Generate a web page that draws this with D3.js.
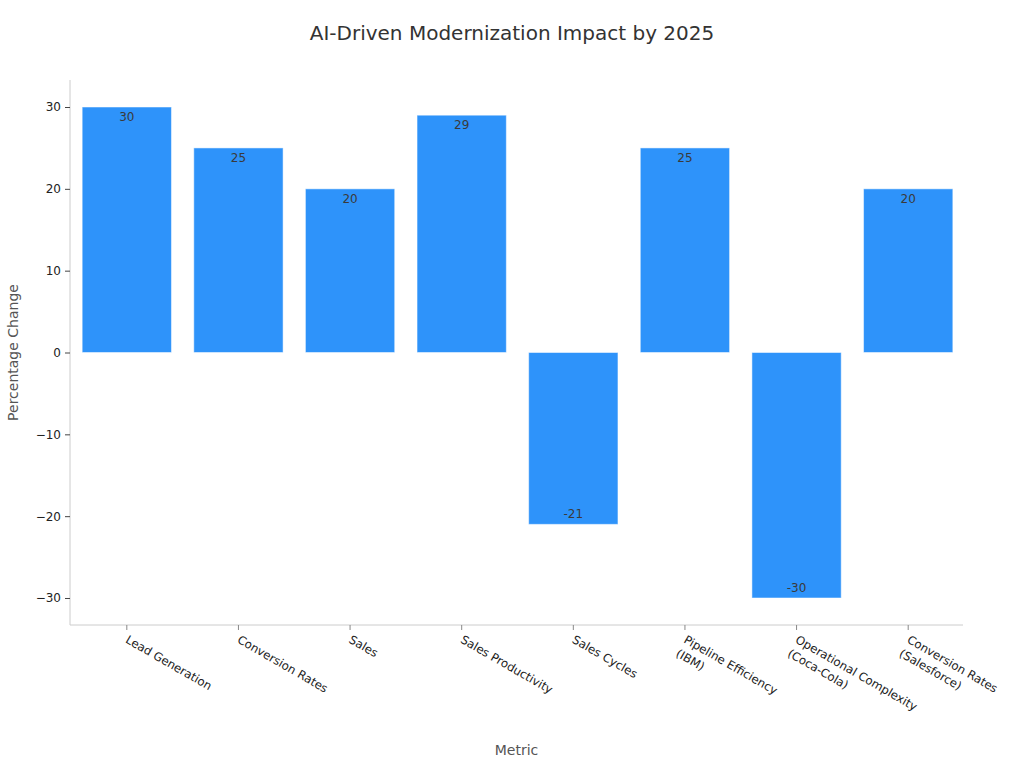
<!DOCTYPE html>
<html><head><meta charset="utf-8">
<script src="https://cdn.jsdelivr.net/npm/d3@7"></script>
<style>body{margin:0;background:#fff;font-family:"DejaVu Sans",sans-serif;}</style>
</head><body><svg id="c" width="1024" height="768"></svg>
<script>
const categories = ["Lead Generation","Conversion Rates","Sales","Sales Productivity","Sales Cycles","Pipeline Efficiency\n(IBM)","Operational Complexity\n(Coca-Cola)","Conversion Rates\n(Salesforce)"];
const values = [30,25,20,29,-21,25,-30,20];
const yTicks = [-30,-20,-10,0,10,20,30];
const title = "AI-Driven Modernization Impact by 2025";
const xTitle = "Metric", yTitle = "Percentage Change";

const svg = d3.select("#c");
const m = {l:70, r:963, t:80, b:625};
const x = d3.scaleBand().domain(categories).range([m.l+1, m.r+1]).paddingInner(0.2).paddingOuter(0.1);
const y = d3.scaleLinear().domain([-33.3, 33.3]).range([m.b, m.t]);

svg.append("text").attr("x",512).attr("y",40).attr("text-anchor","middle")
  .attr("font-size",20).attr("fill","#333").text(title);

svg.selectAll("rect.bar").data(values).join("rect").attr("class","bar")
  .attr("x",(d,i)=>x(categories[i])).attr("width",x.bandwidth())
  .attr("y",d=>y(Math.max(0,d))).attr("height",d=>Math.abs(y(d)-y(0)))
  .attr("fill","#2E93FA").attr("stroke","rgba(255,255,255,0.5)").attr("stroke-width",1);

svg.selectAll("text.val").data(values).join("text").attr("class","val")
  .attr("x",(d,i)=>x(categories[i])+x.bandwidth()/2)
  .attr("y",d=> d>=0 ? y(d)+14 : y(d)-6)
  .attr("text-anchor","middle").attr("font-size",12).attr("fill","#3a3a3a")
  .text(d=>String(d));

const ya = svg.append("g").attr("transform",`translate(${m.l},0)`)
  .call(d3.axisLeft(y).tickValues(yTicks).tickSize(5).tickPadding(4).tickFormat(d=>d3.format("d")(d).replace("-","\u2212")));
ya.select(".domain").attr("stroke","#ccc").attr("d",`M0,${m.t}V${m.b}`);
ya.selectAll(".tick line").attr("stroke","#444");
ya.selectAll(".tick text").attr("font-size",12).attr("fill","#222").attr("font-family","DejaVu Sans");

const xa = svg.append("g").attr("transform",`translate(0,${m.b})`)
  .call(d3.axisBottom(x).tickSize(5).tickFormat(""));
xa.select(".domain").attr("stroke","#ccc").attr("d",`M${m.l},0H${m.r}`);
xa.selectAll(".tick line").attr("stroke","#888");
xa.selectAll(".tick").each(function(d){
  const t = d3.select(this).append("text").attr("font-size",11.7).attr("fill","#222")
    .attr("font-family","DejaVu Sans").attr("text-anchor","start")
    .attr("transform","translate(-2,17) rotate(30)");
  d.split("\n").forEach((s,i)=>{
    t.append("tspan").attr("x",0).attr("dy", i===0? 0 : "1.35em").text(s);
  });
});

svg.append("text").attr("x",(m.l+m.r)/2).attr("y",755).attr("text-anchor","middle")
  .attr("font-size",14).attr("fill","#555").text(xTitle);
svg.append("text").attr("transform",`translate(18,${(m.t+m.b)/2}) rotate(-90)`).attr("text-anchor","middle")
  .attr("font-size",14).attr("fill","#555").text(yTitle);
</script></body></html>
